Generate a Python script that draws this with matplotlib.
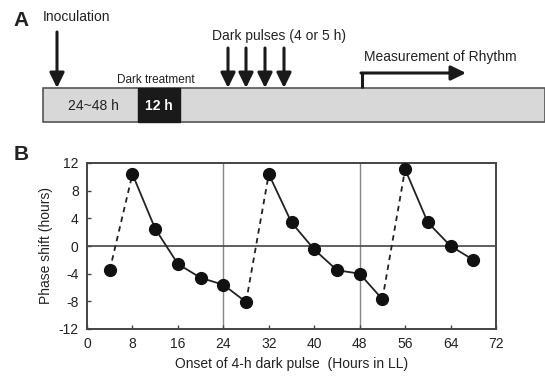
import matplotlib
matplotlib.use("Agg")
import matplotlib.pyplot as plt
from matplotlib.patches import Rectangle

plt.rcParams['font.family'] = ['Liberation Sans', 'DejaVu Sans']
plt.rcParams['axes.unicode_minus'] = False

# phase response data (panel B)
onset = [4, 8, 12, 16, 20, 24, 28, 32, 36, 40, 44, 48, 52, 56, 60, 64, 68]
shift = [-3.5, 10.4, 2.5, -2.6, -4.6, -5.6, -8.1,
         10.4, 3.4, -0.5, -3.5, -4.0, -7.7,
         11.1, 3.4, 0.0, -2.0]
solid_runs = [(1, 6), (7, 12), (13, 16)]
dashed_runs = [(0, 1), (6, 7), (12, 13)]
xticks = [0, 8, 16, 24, 32, 40, 48, 56, 64, 72]
yticks = [-12, -8, -4, 0, 4, 8, 12]
pulse_arrows_x = [228, 246, 265, 284]

txt = '#222222'
fig = plt.figure(figsize=(5.45, 3.78), dpi=100)

# ---- panel A: schematic, drawn in pixel coords
axA = fig.add_axes([0, 0, 1, 1])
axA.set_xlim(0, 545)
axA.set_ylim(378, 0)
axA.axis('off')
axA.patch.set_alpha(0)

axA.text(21, 21, 'A', fontsize=15, fontweight='bold', ha='center', va='center', color=txt)
axA.text(21, 155, 'B', fontsize=15, fontweight='bold', ha='center', va='center', color=txt)

axA.add_patch(Rectangle((43, 88), 502, 34, facecolor='#d8d8d8', edgecolor='#555555', lw=1.2))
axA.add_patch(Rectangle((138, 88), 42, 34, facecolor='#1a1a1a', edgecolor='#1a1a1a', lw=1))
axA.text(93, 106, '24~48 h', fontsize=10, ha='center', va='center', color=txt)
axA.text(159, 106, '12 h', fontsize=10, ha='center', va='center', color='white', fontweight='bold')
axA.text(117, 80, 'Dark treatment', fontsize=8.5, ha='left', va='center', color=txt)
axA.text(43, 17, 'Inoculation', fontsize=10, ha='left', va='center', color=txt)
axA.text(212, 36, 'Dark pulses (4 or 5 h)', fontsize=10, ha='left', va='center', color=txt)
axA.text(364, 57, 'Measurement of Rhythm', fontsize=10, ha='left', va='center', color=txt)

arrow = dict(arrowstyle='-|>,head_length=0.45,head_width=0.22', lw=2.2, color='#1a1a1a',
             mutation_scale=20, shrinkA=0, shrinkB=0)
axA.annotate('', xy=(57, 88), xytext=(57, 32), arrowprops=arrow)
for x in pulse_arrows_x:
    axA.annotate('', xy=(x, 88), xytext=(x, 48), arrowprops=arrow)
axA.plot([362, 362], [88, 73], color='#1a1a1a', lw=2.2, solid_capstyle='butt')
axA.annotate('', xy=(466, 73), xytext=(361, 73), arrowprops=arrow)

# ---- panel B
ax = fig.add_axes([87 / 545, 49 / 378, 409 / 545, 166 / 378])
ax.set_xlim(0, 72)
ax.set_ylim(-12, 12)
ax.axvline(24, color='#888888', lw=1, zorder=1)
ax.axvline(48, color='#888888', lw=1, zorder=1)
ax.axhline(0, color='#444444', lw=1.2, zorder=1)

for a, b in solid_runs:
    ax.plot(onset[a:b + 1], shift[a:b + 1], color='#222222', lw=1.3, zorder=2)
for a, b in dashed_runs:
    ax.plot(onset[a:b + 1], shift[a:b + 1], color='#222222', lw=1.3, ls=(0, (3, 2.5)), zorder=2)
ax.plot(onset, shift, 'o', color='#111111', ms=8.5, zorder=3)

ax.set_xticks(xticks)
ax.set_yticks(yticks)
ax.tick_params(direction='in', length=3, width=1, colors='#444444', labelcolor=txt, labelsize=10, pad=6)
for s in ax.spines.values():
    s.set_color('#444444')
    s.set_linewidth(1.4)
ax.set_xlabel('Onset of 4-h dark pulse  (Hours in LL)', fontsize=10, color=txt, labelpad=4)
ax.set_ylabel('Phase shift (hours)', fontsize=10, color=txt, labelpad=4)

fig.savefig('out.png', dpi=100)
